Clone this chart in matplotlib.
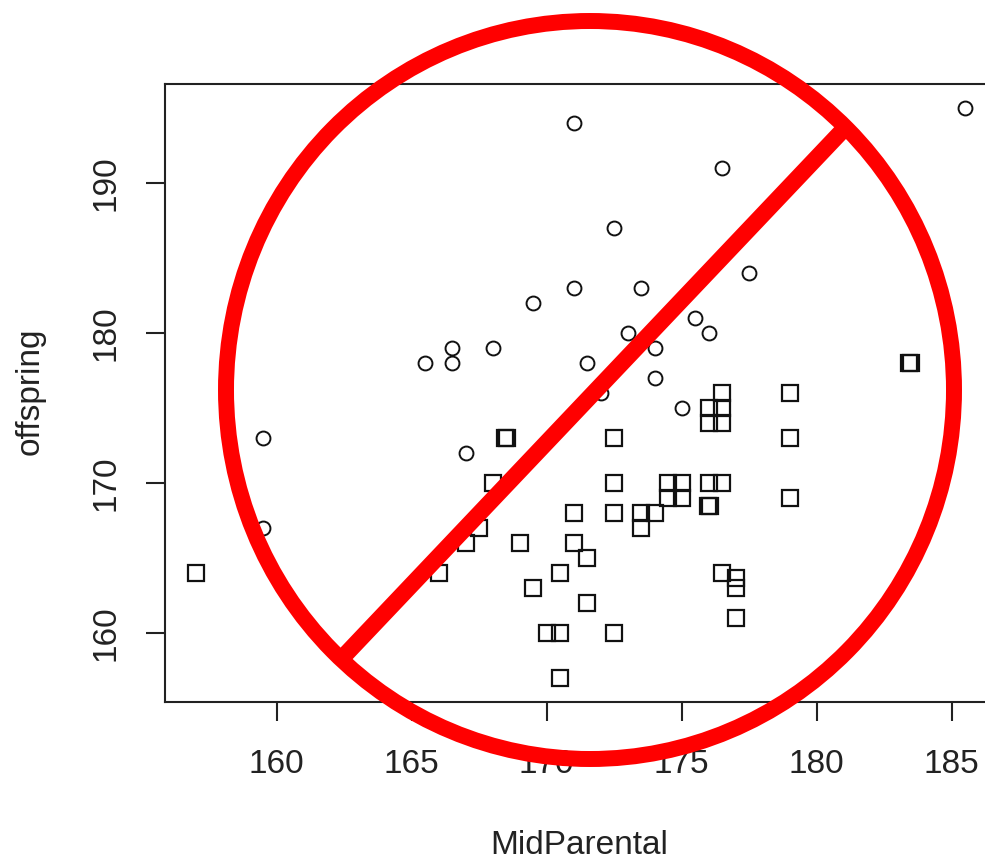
#!/usr/bin/env python3
# Galton style scatter crossed out with a red "no" sign
import matplotlib
matplotlib.use('Agg')
import matplotlib.pyplot as plt
from matplotlib.lines import Line2D
from matplotlib.patches import Ellipse
from matplotlib.transforms import IdentityTransform

W, H = 985, 861

# sons (circles)
circle_x = [185.5, 171, 176.5, 172.5, 177.5, 171, 173.5, 169.5, 175.5, 173, 176, 166.5,
            168, 174, 165.5, 166.5, 171.5, 174, 172, 175, 159.5, 167, 159.5]
circle_y = [195, 194, 191, 187, 184, 183, 183, 182, 181, 180, 180, 179,
            179, 179, 178, 178, 178, 177, 176, 175, 173, 172, 167]

# daughters (squares), a few sit almost on top of each other
square_x = [157, 166, 167, 167.5, 168, 168.45, 168.55, 169, 169.5, 170, 170.5, 170.5, 170.5,
            171, 171, 171.5, 171.5, 172.5, 172.5, 172.5, 172.5, 173.5, 173.5, 174,
            174.5, 174.5, 175, 175, 176, 176, 176, 175.97, 176.05, 176.5, 176.5, 176.5, 176.5,
            176.5, 177, 177, 177, 179, 179, 179, 183.42, 183.5]
square_y = [164, 164, 166, 167, 170, 173, 173, 166, 163, 160, 160, 164, 157,
            168, 166, 165, 162, 173, 170, 168, 160, 168, 167, 168,
            170, 169, 170, 169, 175, 174, 170, 168.5, 168.5, 176, 175, 174, 170,
            164, 163.7, 163, 161, 176, 173, 169, 178, 178]

x_ticks = [160, 165, 170, 175, 180, 185]
y_ticks = [160, 170, 180, 190]

plt.rcParams['font.family'] = ['Liberation Sans', 'DejaVu Sans']

fig = plt.figure(figsize=(W / 100, H / 100), dpi=100)

# axes box runs off the right edge of the picture, like the cropped original
left, right, top, bottom = 165, 995, 84, 702
ax = fig.add_axes([left / W, 1 - bottom / H, (right - left) / W, (bottom - top) / H])
ax.set_xlim(155.87, 186.61)
ax.set_ylim(155.4, 196.6)

ax.plot(circle_x, circle_y, 'o', ms=10, mfc='none', mec='#111111', mew=1.4, clip_on=False)
ax.plot(square_x, square_y, 's', ms=11, mfc='none', mec='#111111', mew=1.6, clip_on=False)

ax.set_xticks(x_ticks)
ax.set_yticks(y_ticks)
ax.tick_params(length=14, width=1.5, color='#222222', labelsize=24, labelcolor='#222222')
ax.tick_params(axis='x', pad=20)
ax.tick_params(axis='y', pad=17)
for lab in ax.get_yticklabels():
    lab.set_rotation(90)
    lab.set_va('center')
for s in ax.spines.values():
    s.set_linewidth(1.5)
    s.set_color('#222222')

fig.text(579 / W, 1 - 845 / H, 'MidParental', fontsize=24, color='#222222', ha='center', va='center')
fig.text(30 / W, 1 - 391 / H, 'offspring', fontsize=24, color='#222222', rotation=90,
         ha='center', va='center')

# red sign, placed in pixels on top of everything
to_px = IdentityTransform()
ring = Ellipse((590, H - 390), 728, 738, fill=False, ec='#ff0000', lw=11.5, transform=to_px)
bar = Line2D([345, 843], [H - 655, H - 130], color='#ff0000', lw=12, transform=to_px,
             solid_capstyle='butt')
fig.add_artist(ring)
fig.add_artist(bar)

fig.savefig('out.png', dpi=100)
